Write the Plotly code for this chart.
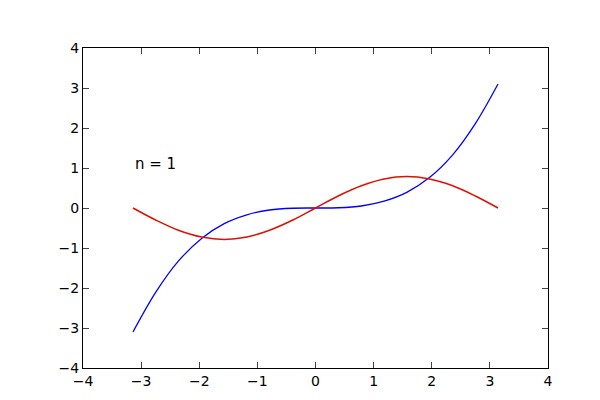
import plotly.graph_objects as go

x = [-3.14, -2.75, -2.36, -1.96, -1.57, -1.18, -0.79, -0.39, 0.0,
     0.39, 0.79, 1.18, 1.57, 1.96, 2.36, 2.75, 3.14]
blue_y = [-3.10, -2.11, -1.33, -0.76, -0.39, -0.17, -0.05, -0.006, 0.0,
          0.006, 0.05, 0.17, 0.39, 0.76, 1.33, 2.11, 3.10]
red_y = [0.0, -0.30, -0.555, -0.725, -0.785, -0.725, -0.555, -0.30, 0.0,
         0.30, 0.555, 0.725, 0.785, 0.725, 0.555, 0.30, 0.0]
label = "n = 1"
ticks = [-4, -3, -2, -1, 0, 1, 2, 3, 4]

fig = go.Figure()
fig.add_trace(go.Scatter(x=x, y=blue_y, mode="lines",
                         line=dict(color="#0000ff", width=1.3, shape="spline")))
fig.add_trace(go.Scatter(x=x, y=red_y, mode="lines",
                         line=dict(color="#dd1100", width=1.5, shape="spline")))
fig.add_annotation(x=-3.14, y=1.1, text=label, showarrow=False,
                   xanchor="left", yanchor="middle",
                   font=dict(family="DejaVu Sans", size=15, color="black"))
ax = dict(range=[-4, 4], tickvals=ticks, ticks="inside", ticklen=6,
          mirror="ticks", showline=True, linecolor="black", linewidth=1,
          showgrid=False, zeroline=False,
          tickfont=dict(family="DejaVu Sans", size=14, color="black"))
fig.update_layout(width=600, height=400, showlegend=False,
                  plot_bgcolor="white", paper_bgcolor="white",
                  margin=dict(l=75, r=60, t=40, b=40, autoexpand=False),
                  xaxis=ax, yaxis=ax)
fig.write_html("out.html")
